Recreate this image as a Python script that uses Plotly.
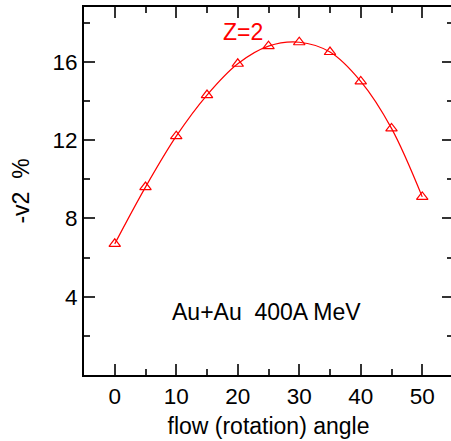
import plotly.graph_objects as go

angles = [0, 5, 10, 15, 20, 25, 30, 35, 40, 45, 50]
v2_neg = [6.7, 9.6, 12.2, 14.3, 15.9, 16.8, 17.0, 16.5, 15.0, 12.6, 9.1]
x_ticks = [0, 10, 20, 30, 40, 50]
y_ticks = [4, 8, 12, 16]

FONT = "Liberation Sans, Arial, Helvetica, sans-serif"

fig = go.Figure()
fig.add_trace(go.Scatter(
    x=angles, y=v2_neg, mode="lines+markers",
    line=dict(color="red", width=1.2, shape="spline", smoothing=1.0),
    marker=dict(symbol="triangle-up-open", size=10, color="red", line=dict(width=1.2)),
    showlegend=False,
))

axis_common = dict(
    showline=True, linecolor="black", linewidth=2, mirror="ticks",
    ticks="inside", tickcolor="#333", tickwidth=1.5, ticklen=11,
    showgrid=False, zeroline=False,
    tickfont=dict(family=FONT, size=22.5, color="black"),
)
fig.update_xaxes(
    range=[-5, 55], tickvals=x_ticks,
    minor=dict(tickvals=[5, 15, 25, 35, 45], ticks="inside", ticklen=6, tickwidth=1.5, tickcolor="#333"),
    title=dict(text="flow (rotation) angle", font=dict(family=FONT, size=23, color="black"), standoff=10),
    **axis_common,
)
fig.update_yaxes(
    range=[0, 18.8], tickvals=y_ticks,
    minor=dict(tickvals=[2, 6, 10, 14, 18], ticks="inside", ticklen=6, tickwidth=1.5, tickcolor="#333"),
    title=dict(text="-v2  %", font=dict(family=FONT, size=23, color="black"), standoff=16),
    **axis_common,
)

fig.add_annotation(x=20.85, y=17.5, text="Z=2", showarrow=False,
                   font=dict(family=FONT, size=23, color="red"))
fig.add_annotation(x=24.7, y=3.2, text="Au+Au  400A MeV", showarrow=False,
                   font=dict(family=FONT, size=23, color="black"))

fig.update_layout(
    width=460, height=441,
    margin=dict(l=84, r=5, t=6, b=66),
    paper_bgcolor="white", plot_bgcolor="white",
)

fig.write_html(
    "out.html",
    config={"displayModeBar": False},
    post_script="document.body.style.margin='0';document.body.style.overflow='hidden';document.documentElement.style.overflow='hidden';",
)
